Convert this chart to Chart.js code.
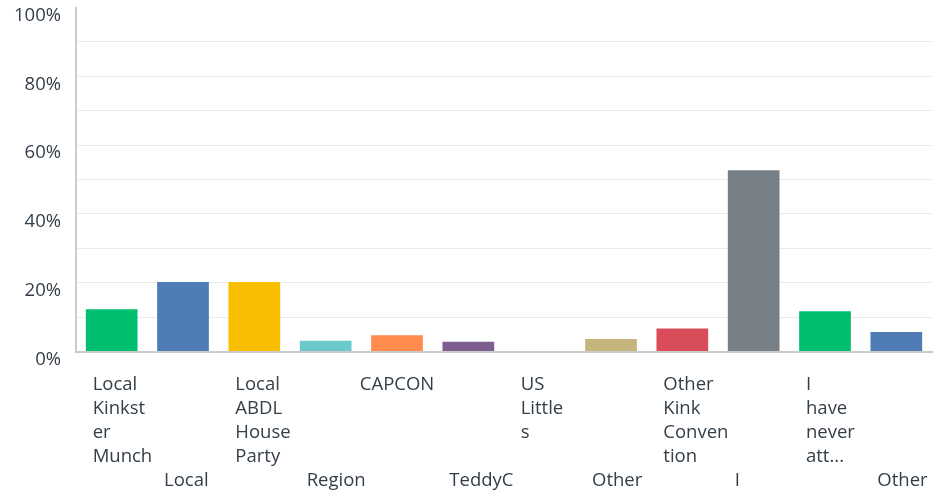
<!DOCTYPE html>
<html>
<head>
<meta charset="utf-8">
<script src="https://cdn.jsdelivr.net/npm/chart.js@4"></script>
<style>
    html, body { margin: 0; padding: 0; background: #ffffff; }
    #wrap { width: 936px; height: 493px; position: relative; }
</style>
</head>
<body>
<div id="wrap"><canvas id="eventsChart"></canvas></div>
<script>
// Survey answer shares, one bar per answer choice

// Wrapped category labels as they show under the axis (even index = upper row, odd = lower row)
const categoryLines = [
    ['Local', 'Kinkst', 'er', 'Munch'],
    ['Local'],
    ['Local', 'ABDL', 'House', 'Party'],
    ['Region'],
    ['CAPCON'],
    ['TeddyC'],
    ['US', 'Little', 's'],
    ['Other'],
    ['Other', 'Kink', 'Conven', 'tion'],
    ['I'],
    ['I', 'have', 'never', 'att...'],
    ['Other']
];

// Percent of respondents
const shareValues = [12.3, 20.2, 20.2, 3.1, 4.7, 2.8, 0, 3.6, 6.7, 52.7, 11.7, 5.7];

const barColors = [
    '#00bf6f', '#507cb6', '#f9be00', '#6bc8cd', '#ff8b4f', '#7d5e90',
    '#d25f90', '#c4b57c', '#d94c59', '#768086', '#00bf6f', '#507cb6'
];

const yTickStep = 10;
const yLabelEvery = 20;

const textColor = '#333e48';
const fontFamily = '"Open Sans", "Noto Sans", sans-serif';

// Draws the staggered, wrapped category labels under the bars
const staggeredLabels = {
    id: 'staggeredLabels',
    afterDraw(chart) {
        const ctx = chart.ctx;
        const xScale = chart.scales.x;
        const base = chart.chartArea.bottom;
        const colWidth = (chart.chartArea.right - chart.chartArea.left) / categoryLines.length;
        const lineHeight = 24;

        ctx.save();
        ctx.font = '18.5px ' + fontFamily;
        ctx.fillStyle = textColor;
        ctx.textBaseline = 'middle';

        categoryLines.forEach((lines, i) => {
            const center = xScale.getPixelForValue(i);
            const firstLine = i % 2 === 0 ? 0 : 4;
            lines.forEach((line, j) => {
                const y = base + 33 + (firstLine + j) * lineHeight;
                const w = ctx.measureText(line).width;
                // lines wider than the column get centred, the rest hang from a fixed left edge
                if (w > colWidth) {
                    ctx.textAlign = 'center';
                    ctx.fillText(line, center, y);
                } else {
                    ctx.textAlign = 'left';
                    ctx.fillText(line, center - 19, y);
                }
            });
        });
        ctx.restore();
    }
};

function setupChart() {
    const canvas = document.getElementById('eventsChart');
    if (!canvas) return;

    window.eventsChart = new Chart(canvas, {
        type: 'bar',
        data: {
            labels: categoryLines.map(l => l.join('')),
            datasets: [{
                data: shareValues,
                backgroundColor: barColors,
                borderWidth: 0,
                barPercentage: 0.725,
                categoryPercentage: 1
            }]
        },
        options: {
            responsive: true,
            maintainAspectRatio: false,
            animation: false,
            layout: {
                padding: { top: 7.5, right: 4, bottom: 141.5, left: 0 }
            },
            plugins: {
                legend: { display: false },
                tooltip: { enabled: false }
            },
            scales: {
                x: {
                    afterFit: scale => { scale.height = 0; },
                    ticks: { display: false },
                    grid: { display: false, drawTicks: false },
                    border: { color: '#cbcbcb', width: 2 }
                },
                y: {
                    min: 0,
                    max: 100,
                    afterFit: scale => { scale.width = 76; },
                    ticks: {
                        stepSize: yTickStep,
                        padding: 0,
                        labelOffset: 8,
                        color: textColor,
                        font: { family: fontFamily, size: 18.5, lineHeight: 0.78 },
                        callback: v => (v % yLabelEvery === 0 ? v + '%' : '')
                    },
                    grid: {
                        drawTicks: true,
                        tickLength: 15,
                        tickColor: 'rgba(0,0,0,0)',
                        lineWidth: 1,
                        color: c => (c.tick && c.tick.value === 100 ? 'rgba(0,0,0,0)' : '#ebebeb')
                    },
                    border: { color: '#cbcbcb', width: 2 }
                }
            }
        },
        plugins: [staggeredLabels]
    });
}

setupChart();
</script>
</body>
</html>
